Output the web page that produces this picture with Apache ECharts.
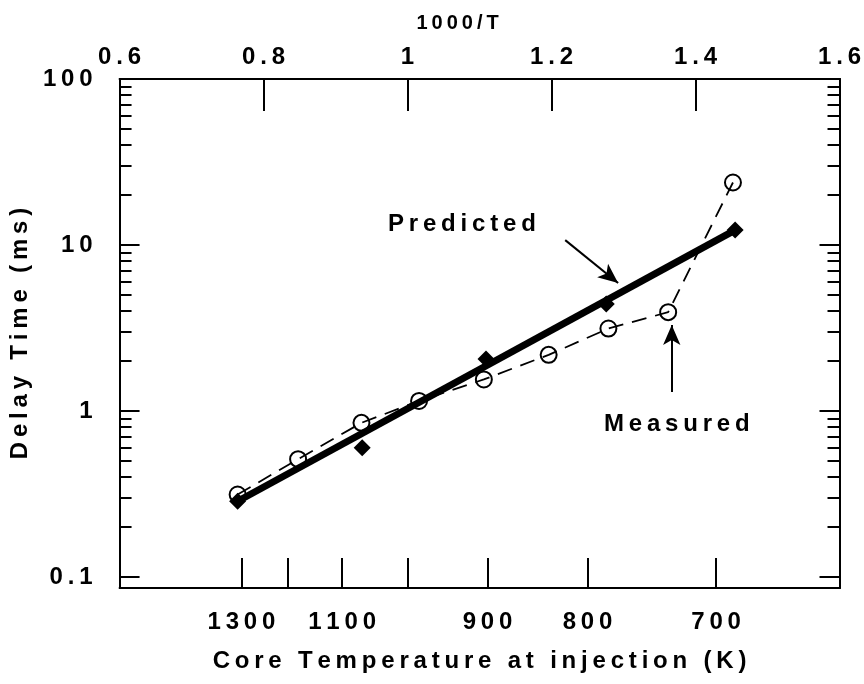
<!DOCTYPE html>
<html>
<head>
<meta charset="utf-8">
<title>Delay Time vs Core Temperature</title>
<script src="https://cdn.jsdelivr.net/npm/echarts@6/dist/echarts.min.js"></script>
<style>
  html, body { margin: 0; padding: 0; background: #fff; }
  #chart { width: 864px; height: 684px; }
</style>
</head>
<body>
<div id="chart"></div>
<script>
// x values are 1000/T, y values are delay time in ms
const predictedX = [0.764, 0.937, 1.109, 1.276, 1.455];
const predictedY = [0.286, 0.60, 2.06, 4.41, 12.3];
const predictedFitX = [0.764, 1.455];
const predictedFitY = [0.286, 12.3];
const measuredX = [0.764, 0.848, 0.936, 1.016, 1.106, 1.196, 1.279, 1.362, 1.452];
const measuredY = [0.314, 0.513, 0.849, 1.15, 1.55, 2.18, 3.14, 3.94, 23.8];

// tick labels
const yMajorTicks = [0.1, 1, 10, 100];
const yMinorTicks = [0.2, 0.3, 0.4, 0.5, 0.6, 0.7, 0.8, 0.9,
                     2, 3, 4, 5, 6, 7, 8, 9,
                     20, 30, 40, 50, 60, 70, 80, 90];
const tempTicks = [1300, 1200, 1100, 1000, 900, 800, 700];
const tempLabels = [1300, 1100, 900, 800, 700];

// annotation arrows [x1, y1, x2, y2]
const predictedArrow = [1.219, 10.7, 1.2925, 5.9];
const measuredArrow = [1.367, 1.30, 1.367, 3.30];

const FONT = '"Liberation Sans", Arial, Helvetica, sans-serif';
const spaced = s => String(s).split('').join('\u2009');
const pairs = (xs, ys) => xs.map((x, i) => [x, ys[i]]);

const chart = echarts.init(document.getElementById('chart'));

const txt = size => ({ fontSize: size, color: '#000', fontFamily: FONT, fontWeight: 'bold' });

const yBase = {
  type: 'log',
  min: 0.0859,
  max: 100,
  splitLine: { show: false },
  axisLine: { show: true, lineStyle: { color: '#000', width: 2 } }
};

const option = {
  backgroundColor: '#fff',
  animation: false,
  textStyle: { fontFamily: FONT },
  grid: { left: 117, right: 23, top: 79, bottom: 96 },
  xAxis: [
    {
      type: 'value',
      position: 'top',
      min: 0.6,
      max: 1.6,
      interval: 0.2,
      name: spaced('1000/T'),
      nameLocation: 'middle',
      nameGap: 46,
      nameTextStyle: Object.assign(txt(20), { padding: [0, 44, 0, 0] }),
      axisLine: { lineStyle: { color: '#000', width: 2 } },
      axisTick: { inside: true, length: 32, lineStyle: { color: '#000', width: 2 } },
      axisLabel: Object.assign(txt(24), { margin: 10,
                   formatter: v => spaced(+Number(v).toFixed(1)) }),
      splitLine: { show: false }
    },
    {
      type: 'value',
      position: 'bottom',
      min: 0.6,
      max: 1.6,
      name: spaced('Core Temperature at injection (K)'),
      nameLocation: 'middle',
      nameGap: 61,
      nameTextStyle: txt(24),
      axisLine: { lineStyle: { color: '#000', width: 2 } },
      axisTick: { inside: true, length: 30, lineStyle: { color: '#000', width: 2 },
                  customValues: tempTicks.map(t => 1000 / t) },
      axisLabel: Object.assign(txt(24), { margin: 22,
                   customValues: tempLabels.map(t => 1000 / t),
                   formatter: v => spaced(Math.round(1000 / v)) }),
      splitLine: { show: false }
    }
  ],
  yAxis: [
    Object.assign({}, yBase, {
      position: 'left',
      name: spaced('Delay Time (ms)'),
      nameLocation: 'middle',
      nameGap: 73,
      nameTextStyle: txt(24),
      axisTick: { inside: true, length: 20, lineStyle: { color: '#000', width: 2 },
                  customValues: yMajorTicks },
      axisLabel: Object.assign(txt(24), { margin: 27,
                   customValues: yMajorTicks,
                   formatter: v => spaced(+Number(v).toPrecision(3)) })
    }),
    Object.assign({}, yBase, {
      position: 'left',
      axisTick: { inside: true, length: 12, lineStyle: { color: '#000', width: 2 },
                  customValues: yMinorTicks },
      axisLabel: { show: false }
    }),
    Object.assign({}, yBase, {
      position: 'right',
      axisTick: { inside: true, length: 20, lineStyle: { color: '#000', width: 2 },
                  customValues: yMajorTicks },
      axisLabel: { show: false }
    }),
    Object.assign({}, yBase, {
      position: 'right',
      axisTick: { inside: true, length: 12, lineStyle: { color: '#000', width: 2 },
                  customValues: yMinorTicks },
      axisLabel: { show: false }
    })
  ],
  graphic: [
    { type: 'text', left: 388, top: 212, silent: true,
      style: { text: spaced('Predicted'), font: 'bold 24px ' + FONT, fill: '#000' } },
    { type: 'text', left: 604, top: 412, silent: true,
      style: { text: spaced('Measured'), font: 'bold 24px ' + FONT, fill: '#000' } }
  ],
  series: [
    {
      name: 'Measured',
      type: 'line',
      xAxisIndex: 0,
      yAxisIndex: 0,
      data: pairs(measuredX, measuredY),
      symbol: 'circle',
      symbolSize: 16,
      showAllSymbol: true,
      lineStyle: { color: '#000', width: 1.8, type: [15, 9] },
      itemStyle: { color: 'rgba(255,255,255,0)', borderColor: '#000', borderWidth: 2 },
      z: 2
    },
    {
      name: 'Predicted fit',
      type: 'line',
      xAxisIndex: 0,
      yAxisIndex: 0,
      data: pairs(predictedFitX, predictedFitY),
      symbol: 'none',
      lineStyle: { color: '#000', width: 7 },
      z: 3,
      markLine: {
        silent: true,
        symbol: ['none', 'arrow'],
        symbolSize: [13, 20],
        label: { show: false },
        lineStyle: { color: '#000', width: 2, type: 'solid' },
        data: [
          [{ coord: [predictedArrow[0], predictedArrow[1]] }, { coord: [predictedArrow[2], predictedArrow[3]] }],
          [{ coord: [measuredArrow[0], measuredArrow[1]] }, { coord: [measuredArrow[2], measuredArrow[3]] }]
        ]
      }
    },
    {
      name: 'Predicted',
      type: 'scatter',
      xAxisIndex: 0,
      yAxisIndex: 0,
      data: pairs(predictedX, predictedY),
      symbol: 'diamond',
      symbolSize: 17,
      itemStyle: { color: '#000', opacity: 1 },
      z: 4
    }
  ]
};

chart.setOption(option);
</script>
</body>
</html>
